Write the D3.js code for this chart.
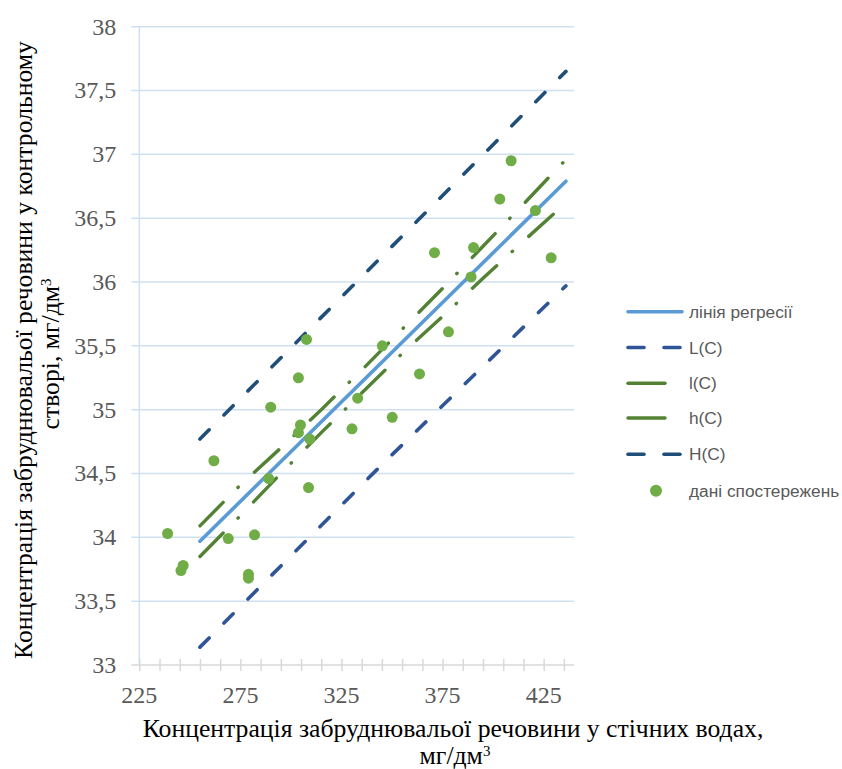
<!DOCTYPE html>
<html>
<head>
<meta charset="utf-8">
<script src="https://cdn.jsdelivr.net/npm/d3@7"></script>
<style>
  body { margin: 0; background: #fff; }
  #chart { width: 842px; height: 769px; }
</style>
</head>
<body>
<div id="chart"></div>
<script>
// axis ticks
const xTicks = [225, 275, 325, 375, 425];
const xMinorTicks = d3.range(225, 440, 10);
const yTicks = [33, 33.5, 34, 34.5, 35, 35.5, 36, 36.5, 37, 37.5, 38];

// observations
const obsX = [239.0, 246.7, 245.6, 261.9, 269.0, 279.0, 279.0, 282.0, 289.0, 290.0,
  303.7, 304.7, 303.7, 307.7, 308.7, 309.3, 330.2, 333.0, 345.2, 350.1,
  363.6, 371.0, 377.9, 390.3, 389.1, 403.3, 408.9, 420.9, 428.7];
const obsY = [34.03, 33.78, 33.74, 34.60, 33.99, 33.71, 33.68, 34.02, 34.46, 35.02,
  35.25, 34.88, 34.82, 35.55, 34.39, 34.77, 34.85, 35.09, 35.50, 34.94,
  35.28, 36.23, 35.61, 36.27, 36.04, 36.65, 36.95, 36.56, 36.19];

// regression line
const regX = [255, 436];
const regY = [33.97, 36.79];

// confidence band l(C), h(C)
const bandX = [255, 275, 295, 315, 335, 355, 375, 395, 415, 436];
const lowC = [33.85, 34.17, 34.50, 34.82, 35.13, 35.44, 35.73, 36.03, 36.32, 36.62];
const highC = [34.09, 34.41, 34.70, 35.00, 35.31, 35.63, 35.95, 36.28, 36.61, 36.96];

// prediction band L(C), H(C)
const predX = [255, 345, 436];
const lowP = [33.14, 34.57, 35.97];
const highP = [34.77, 36.20, 37.65];

const legendNames = ["лінія регресії", "L(C)", "l(C)", "h(C)", "H(C)", "дані спостережень"];

const margin = { top: 26.7, right: 268, bottom: 104, left: 139.3 };
const W = 842, H = 769;
const width = W - margin.left - margin.right;
const height = H - margin.top - margin.bottom;

const x = d3.scaleLinear().domain([225, 440]).range([0, width]);
const y = d3.scaleLinear().domain([33, 38]).range([height, 0]);

const fmt = (d) => String(d).replace(".", ",");
const serif = "'Liberation Serif', 'Times New Roman', serif";

const styles = {
  reg: { stroke: "#5b9bd5", width: 3.6, dash: null },
  L: { stroke: "#2f5597", width: 3.6, dash: "13,21" },
  l: { stroke: "#548235", width: 3.4, dash: "33,21,0.5,22" },
  h: { stroke: "#548235", width: 3.4, dash: "33,21,0.5,22" },
  H: { stroke: "#1f4e79", width: 3.6, dash: "13,21" },
};

const svg = d3
  .select("#chart")
  .append("svg")
  .attr("width", W)
  .attr("height", H);

const g = svg
  .append("g")
  .attr("transform", `translate(${margin.left},${margin.top})`);

// grid
g.append("g")
  .selectAll("line")
  .data(yTicks.filter((d) => d > 33))
  .enter()
  .append("line")
  .attr("x1", -8)
  .attr("x2", width)
  .attr("y1", (d) => y(d))
  .attr("y2", (d) => y(d))
  .attr("stroke", "#cfe0f1")
  .attr("stroke-width", 1.5);

// y axis line
g.append("line")
  .attr("x1", 0).attr("x2", 0)
  .attr("y1", 0).attr("y2", height)
  .attr("stroke", "#cfe0f1")
  .attr("stroke-width", 1.5);

// x axis
const xAxis = g
  .append("g")
  .attr("transform", `translate(0,${height})`)
  .call(d3.axisBottom(x).tickValues(xMinorTicks).tickSize(6).tickFormat(""));
xAxis.select(".domain").remove();
xAxis.selectAll(".tick line")
  .attr("y1", -6)
  .attr("y2", 6)
  .attr("stroke", "#d9d9d9")
  .attr("stroke-width", 1.5);
g.append("line")
  .attr("x1", -8).attr("x2", width)
  .attr("y1", height).attr("y2", height)
  .attr("stroke", "#d9d9d9")
  .attr("stroke-width", 1.5);

g.append("g")
  .selectAll("text")
  .data(xTicks)
  .enter()
  .append("text")
  .attr("x", (d) => x(d))
  .attr("y", height + 38)
  .attr("text-anchor", "middle")
  .style("font-family", serif)
  .style("font-size", "24px")
  .attr("fill", "#595959")
  .text((d) => d);

g.append("g")
  .selectAll("text")
  .data(yTicks)
  .enter()
  .append("text")
  .attr("x", -23)
  .attr("y", (d) => y(d))
  .attr("dy", "0.33em")
  .attr("text-anchor", "end")
  .style("font-family", serif)
  .style("font-size", "24px")
  .attr("fill", "#595959")
  .text(fmt);

// series lines
const line = d3.line().x((d) => x(d[0])).y((d) => y(d[1]));
const zip = (xs, ys) => xs.map((v, i) => [v, ys[i]]);

const series = [
  { key: "reg", pts: zip(regX, regY) },
  { key: "L", pts: zip(predX, lowP) },
  { key: "l", pts: zip(bandX, lowC) },
  { key: "h", pts: zip(bandX, highC) },
  { key: "H", pts: zip(predX, highP) },
];

g.append("g")
  .selectAll("path")
  .data(series)
  .enter()
  .append("path")
  .attr("d", (d) => line(d.pts))
  .attr("fill", "none")
  .attr("stroke", (d) => styles[d.key].stroke)
  .attr("stroke-width", (d) => styles[d.key].width)
  .attr("stroke-dasharray", (d) => styles[d.key].dash)
  .attr("stroke-linecap", "round");

// observations
g.append("g")
  .selectAll("circle")
  .data(zip(obsX, obsY))
  .enter()
  .append("circle")
  .attr("cx", (d) => x(d[0]))
  .attr("cy", (d) => y(d[1]))
  .attr("r", 5.5)
  .attr("fill", "#70ad47");

// axis titles
const xTitle = svg.append("text")
  .attr("text-anchor", "middle")
  .style("font-family", serif)
  .style("font-size", "25.7px")
  .attr("fill", "#000");
xTitle.append("tspan").attr("x", 453).attr("y", 737)
  .text("Концентрація забруднювальої речовини у стічних водах,");
xTitle.append("tspan").attr("x", 455).attr("y", 764).text("мг/дм");
xTitle.append("tspan").attr("dy", -8).style("font-size", "15px").text("3");

const yTitle = svg.append("text")
  .attr("transform", "translate(0,350) rotate(-90)")
  .attr("text-anchor", "middle")
  .style("font-family", serif)
  .style("font-size", "25.7px")
  .attr("fill", "#000");
yTitle.append("tspan").attr("x", 0).attr("y", 32)
  .text("Концентрація забруднювальої речовини у контрольному");
yTitle.append("tspan").attr("x", -4).attr("y", 59).text("створі, мг/дм");
yTitle.append("tspan").attr("dy", -8).style("font-size", "15px").text("3");

// legend
const legendY = [311.7, 347.5, 383.3, 418, 454.3, 490.7];
const legendKeys = ["reg", "L", "l", "h", "H", "obs"];
const legend = svg.append("g");
legendKeys.forEach((k, i) => {
  const row = legend.append("g").attr("transform", `translate(0,${legendY[i]})`);
  if (k === "obs") {
    row.append("circle").attr("cx", 656).attr("cy", 0).attr("r", 6).attr("fill", "#70ad47");
  } else if (k === "L" || k === "H") {
    [[628, 644], [664, 680]].forEach(([a, b]) => {
      row.append("line").attr("x1", a).attr("x2", b).attr("y1", 0).attr("y2", 0)
        .attr("stroke", styles[k].stroke).attr("stroke-width", styles[k].width)
        .attr("stroke-linecap", "round");
    });
  } else {
    row.append("line")
      .attr("x1", 628).attr("x2", k === "reg" ? 682 : 665)
      .attr("y1", 0).attr("y2", 0)
      .attr("stroke", styles[k].stroke).attr("stroke-width", styles[k].width)
      .attr("stroke-linecap", "round");
  }
  row.append("text")
    .attr("x", 689)
    .attr("y", 0)
    .attr("dy", "0.35em")
    .style("font-family", "'Liberation Sans', Arial, sans-serif")
    .style("font-size", "17.3px")
    .attr("fill", "#595959")
    .text(legendNames[i]);
});
</script>
</body>
</html>
